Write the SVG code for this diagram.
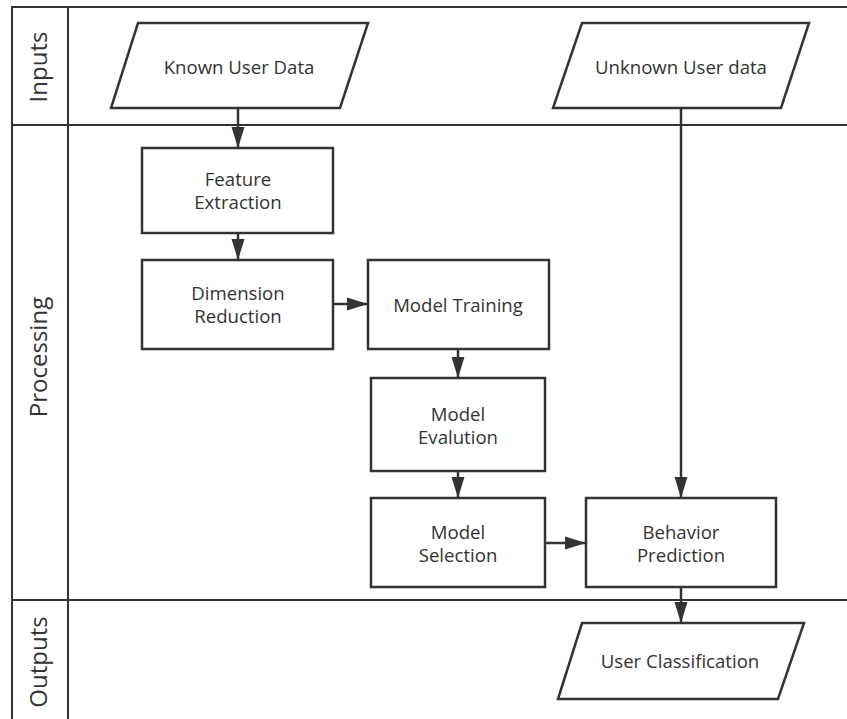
<svg xmlns="http://www.w3.org/2000/svg" width="847" height="719" viewBox="0 0 847 719">
<style>
.ln{stroke:#333;stroke-width:2;fill:none}
.nd{stroke:#333;stroke-width:2.5;fill:#fff}
.tx{font-family:"Open Sans","Noto Sans",sans-serif;font-size:18.6px;fill:#333;text-anchor:middle}
.lane{font-family:"Open Sans","Noto Sans",sans-serif;font-size:24px;fill:#333;text-anchor:middle}
.cn{stroke:#333;stroke-width:2.5;fill:none;marker-end:url(#ah)}
</style>
<defs>
<marker id="ah" markerUnits="userSpaceOnUse" markerWidth="22" markerHeight="14" refX="21" refY="7" orient="auto">
<path d="M0,0.5 L21,7 L0,13.5 z" fill="#333"/>
</marker>
</defs>
<rect width="847" height="719" fill="#fff"/>
<g id="lanes">
<line class="ln" x1="12" y1="7" x2="847" y2="7"/>
<line class="ln" x1="12" y1="6" x2="12" y2="719"/>
<line class="ln" x1="68" y1="7" x2="68" y2="719"/>
<line class="ln" x1="12" y1="125" x2="847" y2="125"/>
<line class="ln" x1="12" y1="600" x2="847" y2="600"/>
<text class="lane" transform="translate(46.5,67) rotate(-90)">Inputs</text>
<text class="lane" transform="translate(46.5,357) rotate(-90)">Processing</text>
<text class="lane" transform="translate(46.5,662) rotate(-90)">Outputs</text>
</g>
<g id="connectors">
<line class="cn" x1="238" y1="108" x2="238" y2="148"/>
<line class="cn" x1="238" y1="233" x2="238" y2="260"/>
<line class="cn" x1="333" y1="304" x2="368" y2="304"/>
<line class="cn" x1="458" y1="349" x2="458" y2="378"/>
<line class="cn" x1="458" y1="471" x2="458" y2="498"/>
<line class="cn" x1="545" y1="543" x2="586" y2="543"/>
<line class="cn" x1="681" y1="108" x2="681" y2="498"/>
<line class="cn" x1="681" y1="587" x2="681" y2="623"/>
</g>
<g id="known">
<polygon class="nd" points="138,23 368,23 340,108 111,108"/>
<text class="tx" x="239" y="73.5">Known User Data</text>
</g>
<g id="unknown">
<polygon class="nd" points="582,23 809,23 781,108 553,108"/>
<text class="tx" x="681" y="73.5">Unknown User data</text>
</g>
<g id="feature">
<rect class="nd" x="142" y="148" width="191" height="85"/>
<text class="tx" x="238" y="186">Feature</text>
<text class="tx" x="238" y="209">Extraction</text>
</g>
<g id="dimension">
<rect class="nd" x="142" y="260" width="191" height="89"/>
<text class="tx" x="238" y="300">Dimension</text>
<text class="tx" x="238" y="323">Reduction</text>
</g>
<g id="training">
<rect class="nd" x="368" y="260" width="181" height="89"/>
<text class="tx" x="458" y="312">Model Training</text>
</g>
<g id="evaluation">
<rect class="nd" x="371" y="378" width="174" height="93"/>
<text class="tx" x="458" y="420.5">Model</text>
<text class="tx" x="458" y="443.5">Evalution</text>
</g>
<g id="selection">
<rect class="nd" x="371" y="498" width="174" height="89"/>
<text class="tx" x="458" y="539">Model</text>
<text class="tx" x="458" y="562">Selection</text>
</g>
<g id="behavior">
<rect class="nd" x="586" y="498" width="190" height="89"/>
<text class="tx" x="681" y="539">Behavior</text>
<text class="tx" x="681" y="562">Prediction</text>
</g>
<g id="classification">
<polygon class="nd" points="582,623 804,623 778,699 558,699"/>
<text class="tx" x="680" y="668">User Classification</text>
</g>
</svg>
